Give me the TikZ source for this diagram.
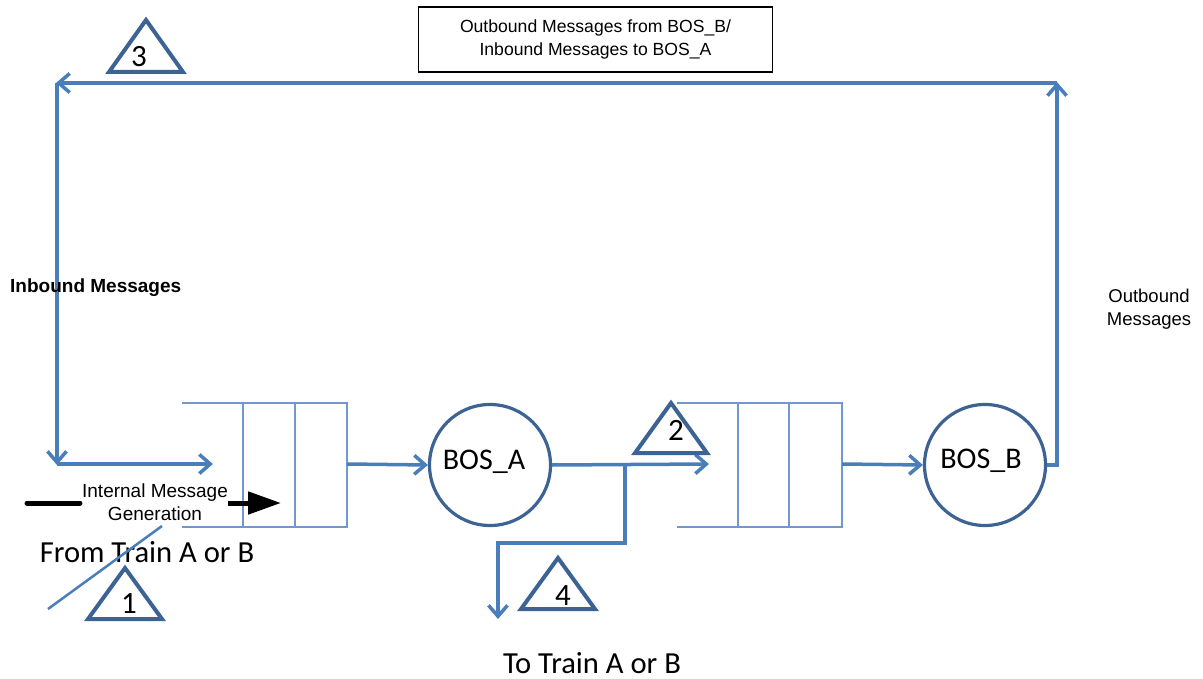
\documentclass[tikz,border=0pt]{standalone}
\usepackage{fontspec}
\setmainfont{Liberation Sans}
\newfontfamily\calfont{Carlito}
\usetikzlibrary{arrows.meta}
\definecolor{conn}{HTML}{4A7EBB}
\definecolor{qline}{HTML}{7098CC}
\definecolor{outl}{HTML}{3D6394}
\tikzset{
  conn/.style={draw=conn, line width=3.5pt},
  arr/.style={conn, -{Straight Barb[length=11pt,width=19pt]}},
  qbox/.style={draw=qline, line width=1.6pt},
  bos/.style={circle, draw=outl, line width=3.2pt, minimum size=121pt, inner sep=0pt},
  bostxt/.style={font=\calfont\fontsize{30}{34}\selectfont, inner sep=0pt},
  tri/.style={draw=outl, line width=4pt, line join=miter, fill=white},
  num/.style={font=\calfont\fontsize{31}{34}\selectfont, inner sep=0pt},
  lbl/.style={font=\fontsize{18.5}{23}\selectfont, align=center, inner sep=0pt},
  big/.style={font=\calfont\fontsize{30.6}{34}\selectfont, inner sep=0pt},
}
\begin{document}
\begin{tikzpicture}[x=1pt,y=-1pt]
\useasboundingbox (0,0) rectangle (1203,679);

% top box
\node[draw=black, line width=1.5pt, minimum width=354pt, minimum height=65pt, lbl, font=\fontsize{17.6}{23}\selectfont] (topbox) at (595.5,39.5)
  {Outbound Messages from BOS\_B/\\Inbound Messages to BOS\_A};

% BOS circles
\node[bos] (bosa) at (490,465) {};
\node[bostxt] (bosatxt) at (484,462) {BOS\_A};
\node[bos] (bosb) at (985,465) {};
\node[bostxt] (bosbtxt) at (981,461) {BOS\_B};

% queue 1
\draw[qbox] (182,403) -- (347,403) -- (347,527) -- (182,527);
\draw[qbox] (243,403) -- (243,527);
\draw[qbox] (295,403) -- (295,527);
\coordinate (q1in) at (213,464);
\coordinate (q1out) at (347,464);
% queue 2
\draw[qbox] (677,403) -- (842,403) -- (842,527) -- (677,527);
\draw[qbox] (738,403) -- (738,527);
\draw[qbox] (789,403) -- (789,527);
\coordinate (q2in) at (709,464);
\coordinate (q2out) at (842,464);

% coordinates of the loop
\coordinate (rb) at (1057,465);
\coordinate (rt) at (1057,82);
\coordinate (lt) at (56,83);
\coordinate (lb) at (57,465);
\coordinate (br) at (625,464);
\coordinate (down) at (498,619);

% connectors
\draw[arr] (q1out) -- (bosa.west);
\draw[arr] (bosa.east) -- (q2in);
\draw[arr] (q2out) -- (bosb.west);
\draw[arr] (bosb.east) -- (rb) -- (rt);
\draw[arr] (1057,83) -- (lt);
\draw[arr] (57,83) -- (lb);
\draw[arr] (57,464) -- (q1in);
\draw[arr] (br) -- (625,543) -- (498,543) -- (down);

% labels
\node[lbl, font=\bfseries\fontsize{19}{22}\selectfont, anchor=west] (inb) at (10,288) {Inbound Messages};
\node[lbl] (outb) at (1149,309) {Outbound\\Messages};

% internal message generation
\node[lbl, font=\fontsize{19}{23}\selectfont] (imsg) at (155,502) {Internal Message\\Generation};
\coordinate (imstart) at (27,503);
\coordinate (imend) at (281,503);
\draw[line width=5pt, line cap=round] (imstart) -- (80,503);
\draw[line width=5pt, -{Triangle[length=33pt,width=22pt]}] (228,503) -- (imend);

% from/to train
\node[big, anchor=base] (from) at (147,562) {From Train A or B};
\coordinate (d1) at (48,609);
\coordinate (d2) at (162,526);
\draw[conn, line width=2.5pt] (d1) -- (d2);
\node[big, anchor=base] (to) at (592,673) {To Train A or B};

% triangles
\draw[tri] (109,72) -- (146,20) -- (183,72) -- cycle;
\node[num] (n3) at (139,57) {3};
\draw[tri] (88,619) -- (125,568) -- (162,619) -- cycle;
\node[num] (n1) at (129,604) {1};
\draw[tri] (635,453) -- (671,403) -- (707,453) -- cycle;
\node[num] (n2) at (676,430) {2};
\draw[tri] (521,609) -- (558,558) -- (595,609) -- cycle;
\node[num] (n4) at (563,596) {4};
\end{tikzpicture}
\end{document}
